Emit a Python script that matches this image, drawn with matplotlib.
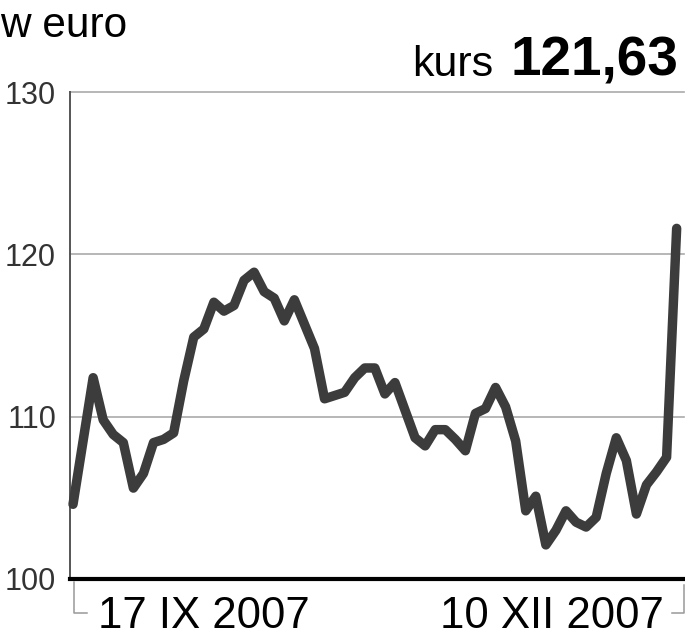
import matplotlib
matplotlib.use("Agg")
import matplotlib.pyplot as plt
from matplotlib.lines import Line2D

# exchange rate readings, one per trading day
rates = [
    104.6, 108.5, 112.4, 109.8, 108.9, 108.4, 105.6, 106.5, 108.4, 108.6,
    109.0, 112.2, 114.9, 115.4, 117.05, 116.5, 116.85, 118.4, 118.9, 117.7,
    117.3, 115.9, 117.2, 115.7, 114.2, 111.1, 111.3, 111.5, 112.4, 113.0,
    113.0, 111.4, 112.1, 110.4, 108.7, 108.2, 109.2, 109.2, 108.6, 107.9,
    110.2, 110.5, 111.8, 110.6, 108.5, 104.2, 105.1, 102.1, 103.0, 104.2,
    103.5, 103.2, 103.8, 106.5, 108.7, 107.3, 104.0, 105.8, 106.6, 107.5,
    121.6,
]
days = list(range(len(rates)))
y_ticks = [100, 110, 120, 130]
x_labels = ["17 IX 2007", "10 XII 2007"]
unit_label = "w euro"
last_label = "kurs"
last_value = "121,63"

W, H = 685, 640
REG = ["Liberation Sans", "DejaVu Sans"]

fig = plt.figure(figsize=(W / 100, H / 100), dpi=100)
ax = fig.add_axes([70 / W, 1 - 579 / H, 614 / W, (579 - 92) / H])

for y in y_ticks[1:]:
    ax.axhline(y, color="#aaaaaa", lw=1.2, zorder=1, clip_on=False)
ax.axhline(y_ticks[0], color="black", lw=3.0, zorder=3, clip_on=False)

ax.plot(days, rates, color="#3c3c3c", lw=6.8, solid_joinstyle="round",
        solid_capstyle="round", zorder=4, clip_on=False)

ax.set_xlim(-0.3, 60.73)
ax.set_ylim(100, 130)
for side in ["top", "right", "bottom"]:
    ax.spines[side].set_visible(False)
ax.spines["left"].set_color("#555555")
ax.spines["left"].set_linewidth(1.4)
ax.set_xticks([])
ax.set_yticks(y_ticks)
ax.set_yticklabels([str(v) for v in y_ticks], family=REG, fontsize=22,
                   color="#333333")
ax.tick_params(axis="y", length=0, pad=10)

# date labels under the axis
ax.annotate(x_labels[0], xy=(0, 0), xycoords="axes fraction",
            xytext=(28 / 1.389, -49 / 1.389), textcoords="offset points",
            ha="left", va="baseline", fontsize=31.5, family=REG, color="black")
ax.annotate(x_labels[1], xy=(1, 0), xycoords="axes fraction",
            xytext=(-20 / 1.389, -49 / 1.389), textcoords="offset points",
            ha="right", va="baseline", fontsize=31.5, family=REG, color="black")

# thin brackets below the baseline
def px_line(xs, ys):
    fig.add_artist(Line2D([x / W for x in xs], [1 - y / H for y in ys],
                          color="#999999", lw=1.1, transform=fig.transFigure))

px_line([74, 74, 87], [582, 613, 613])
px_line([684, 684, 672], [585, 613, 613])

# headings
fig.text(0 / W, 1 - 37 / H, unit_label, family=REG, fontsize=30.5,
         ha="left", va="baseline", color="black")
fig.text(678 / W, 1 - 76 / H, last_value, family=REG, fontsize=39.5,
         fontweight="bold", ha="right", va="baseline", color="black")
fig.text(493 / W, 1 - 76 / H, last_label, family=REG, fontsize=31,
         ha="right", va="baseline", color="black")

fig.savefig("out.png", dpi=100, facecolor="white")
